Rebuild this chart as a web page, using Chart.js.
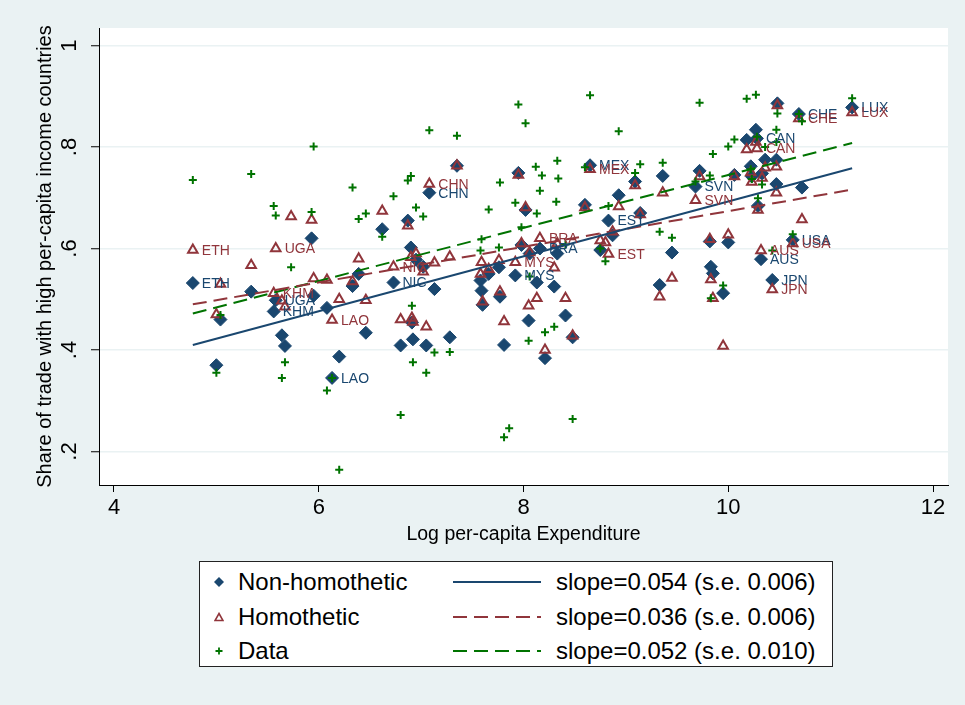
<!DOCTYPE html>
<html>
<head>
<meta charset="utf-8">
<script src="https://cdn.jsdelivr.net/npm/chart.js@4.4.0/dist/chart.umd.min.js"></script>
<style>
  body { margin: 0; background: #eaf2f3; }
  #wrap { position: relative; width: 965px; height: 705px; background: #eaf2f3; font-family: "Liberation Sans", Arial, sans-serif; }
  #grafico { position: absolute; left: 0; top: 0; }
  #legenda { position: absolute; left: 199px; top: 561px; width: 632px; height: 104px; background: #fff; border: 1px solid #222; }
  #legenda .item { position: absolute; font-size: 24px; line-height: 24px; color: #000; white-space: nowrap; }
  #legenda svg { position: absolute; }
</style>
</head>
<body>
<div id="wrap">
  <canvas id="grafico" width="965" height="705"></canvas>
  <div id="legenda"></div>
</div>
<script>
// log per-capita expenditure, one entry per country
const logExp = [4.77, 5.00, 5.04, 5.34, 5.56, 5.58, 5.64, 5.67, 5.73, 5.93,
  5.95, 6.08, 6.13, 6.20, 6.33, 6.39, 6.46, 6.62, 6.73, 6.80,
  6.87, 6.90, 6.91, 6.92, 6.95, 7.02, 7.05, 7.08, 7.13, 7.28,
  7.35, 7.58, 7.59, 7.60, 7.66, 7.76, 7.77, 7.81, 7.86, 7.92,
  7.95, 7.98, 8.02, 8.05, 8.06, 8.13, 8.16, 8.21, 8.30, 8.33,
  8.41, 8.48, 8.60, 8.65, 8.75, 8.80, 8.83, 8.87, 8.93, 9.09,
  9.14, 9.33, 9.36, 9.45, 9.68, 9.72, 9.82, 9.83, 9.85, 9.95,
  10.00, 10.06, 10.18, 10.22, 10.23, 10.27, 10.28, 10.29, 10.32, 10.33,
  10.36, 10.43, 10.47, 10.47, 10.48, 10.63, 10.69, 10.72, 11.21,
  8.12, 8.18, 8.34, 8.32];

const countryCodes = ["ETH", "", "", "", "KHM", "UGA", "", "", "", "",
  "", "", "LAO", "", "", "", "", "", "NIC", "",
  "", "", "", "", "", "", "", "CHN", "", "",
  "", "", "", "", "", "", "", "", "", "MYS",
  "", "", "", "", "", "", "BRA", "", "", "",
  "", "", "", "MEX", "", "", "EST", "", "", "",
  "", "", "", "", "SVN", "", "", "", "", "",
  "", "", "", "", "", "", "CAN", "", "AUS", "",
  "", "JPN", "", "", "", "USA", "CHE", "", "LUX",
  "", "", "", ""];

const nonHomothetic = [0.532, 0.370, 0.460, 0.515, 0.476, 0.498, 0.429, 0.408, null, 0.620,
  0.507, 0.483, 0.345, 0.387, 0.526, 0.550, 0.434, 0.638, 0.533, 0.409,
  0.655, 0.602, 0.454, 0.421, 0.578, 0.564, 0.409, 0.710, 0.520, 0.425,
  0.763, 0.537, 0.517, 0.489, 0.550, 0.563, 0.505, 0.410, null, 0.547,
  0.749, 0.607, 0.676, 0.458, 0.590, 0.533, 0.600, 0.384, 0.525, 0.590,
  0.468, 0.425, 0.686, 0.764, 0.597, null, 0.655, 0.626, 0.705, 0.732,
  0.670, 0.528, 0.743, 0.592, 0.722, 0.753, 0.614, 0.564, 0.551, 0.512,
  0.612, 0.745, 0.814, 0.762, 0.742, 0.834, 0.817, 0.684, 0.579, 0.748,
  0.775, 0.538, 0.775, 0.727, 0.886, 0.617, 0.865, 0.720, 0.878,
  null, null, null, null];

const homothetic = [0.597, 0.470, 0.530, 0.567, 0.512, 0.600, 0.497, 0.485, 0.663, 0.656,
  0.541, 0.538, 0.459, 0.500, 0.535, 0.580, 0.498, 0.674, 0.564, 0.460,
  0.645, 0.583, 0.463, 0.455, 0.590, 0.554, 0.446, 0.727, 0.572, 0.584,
  0.763, 0.550, 0.573, 0.495, 0.559, 0.577, 0.515, 0.456, null, 0.573,
  0.745, 0.610, 0.681, 0.487, 0.592, 0.502, 0.620, 0.400, 0.562, 0.610,
  0.502, 0.428, 0.681, 0.756, 0.616, 0.612, 0.589, 0.633, 0.683, 0.724,
  0.667, 0.505, 0.710, 0.542, 0.695, 0.742, 0.618, 0.539, 0.502, 0.408,
  0.627, 0.742, 0.795, 0.750, 0.731, 0.810, 0.797, 0.676, 0.596, 0.739,
  0.759, 0.519, 0.761, 0.710, 0.882, 0.610, 0.856, 0.657, 0.868,
  null, null, null, null];

const dataShare = [0.735, 0.355, 0.469, 0.747, 0.684, 0.665, 0.345, 0.376, 0.563, 0.672,
  0.801, 0.320, 0.345, 0.164, 0.720, 0.658, 0.669, 0.623, 0.703, 0.272,
  0.734, 0.743, 0.487, 0.376, 0.681, 0.663, 0.355, 0.833, 0.395, 0.396,
  0.822, 0.596, 0.618, null, 0.677, 0.602, 0.730, 0.228, 0.246, 0.690,
  0.884, 0.642, 0.847, 0.418, 0.545, 0.669, 0.714, 0.435, 0.446, 0.773,
  0.608, 0.264, 0.760, 0.902, 0.600, 0.575, 0.684, null, 0.831, 0.749,
  0.766, 0.633, 0.769, 0.621, 0.732, 0.887, 0.744, 0.502, 0.786, 0.527,
  0.801, 0.815, 0.895, 0.756, 0.737, 0.903, 0.820, 0.699, null, 0.726,
  0.800, 0.596, 0.834, 0.810, 0.866, 0.628, 0.865, 0.851, 0.896,
  0.761, 0.744, 0.738, 0.692];

// fitted lines, read at both ends
const fitX = [4.77, 11.21];
const fitNonHom = [0.410, 0.758];
const fitHom = [0.490, 0.716];
const fitData = [0.472, 0.808];

const xTicks = [4, 6, 8, 10, 12];
const yTicks = [0.2, 0.4, 0.6, 0.8, 1];

const legendLabels = ["Non-homothetic", "Homothetic", "Data"];
const slopeLabels = ["slope=0.054 (s.e. 0.006)", "slope=0.036 (s.e. 0.006)", "slope=0.052 (s.e. 0.010)"];

const azul = "#1a476f";
const vermelho = "#90353b";
const verde = "#007300";
const fonte = '"Liberation Sans", Arial, sans-serif';

function pontos(vals) {
  return logExp.map((x, i) => ({ x: x, y: vals[i] })).filter(p => p.y !== null);
}
function reta(vals) {
  return fitX.map((x, i) => ({ x: x, y: vals[i] }));
}

const fundoBranco = {
  id: "fundoBranco",
  beforeDraw(chart) {
    const a = chart.chartArea;
    chart.ctx.save();
    chart.ctx.fillStyle = "#fff";
    chart.ctx.fillRect(a.left, a.top, a.right - a.left, a.bottom - a.top);
    chart.ctx.restore();
  }
};

const rotulos = {
  id: "rotulos",
  afterDatasetsDraw(chart) {
    const ctx = chart.ctx;
    const xs = chart.scales.x, ys = chart.scales.y;
    ctx.save();
    ctx.font = "14px " + fonte;
    ctx.textAlign = "left";
    ctx.textBaseline = "middle";
    [[nonHomothetic, azul], [homothetic, vermelho]].forEach(([vals, cor]) => {
      ctx.fillStyle = cor;
      countryCodes.forEach((c, i) => {
        if (!c || vals[i] === null) return;
        ctx.fillText(c, xs.getPixelForValue(logExp[i]) + 9, ys.getPixelForValue(vals[i]) + 1);
      });
    });
    ctx.restore();
  }
};

Chart.defaults.font.family = fonte;
Chart.defaults.color = "#000";

new Chart(document.getElementById("grafico"), {
  type: "scatter",
  data: {
    datasets: [
      { label: "fitNonHom", type: "line", data: reta(fitNonHom), borderColor: azul, borderWidth: 2, pointRadius: 0, order: 0 },
      { label: "fitHom", type: "line", data: reta(fitHom), borderColor: vermelho, borderWidth: 2, borderDash: [14, 7], pointRadius: 0, order: 0 },
      { label: "fitData", type: "line", data: reta(fitData), borderColor: verde, borderWidth: 2, borderDash: [14, 7], pointRadius: 0, order: 0 },
      { label: "Data", data: pontos(dataShare), pointStyle: "cross", pointRadius: 4, borderColor: verde, borderWidth: 2, order: 1 },
      { label: "Homothetic", data: pontos(homothetic), pointStyle: "triangle", pointRadius: 5.5, borderColor: vermelho, backgroundColor: "rgba(0,0,0,0)", borderWidth: 2, order: 2 },
      { label: "Non-homothetic", data: pontos(nonHomothetic), pointStyle: "rectRot", pointRadius: 6.5, borderColor: azul, backgroundColor: azul, borderWidth: 1, order: 3 }
    ]
  },
  options: {
    responsive: false,
    animation: false,
    devicePixelRatio: 1,
    layout: { padding: { left: 0, right: 17, top: 28, bottom: 156 } },
    plugins: { legend: { display: false }, tooltip: { enabled: false } },
    scales: {
      x: {
        type: "linear",
        min: 3.8535,
        max: 12.1465,
        afterBuildTicks: s => { s.ticks = xTicks.map(v => ({ value: v })); },
        afterFit: s => { s.height = 64; },
        grid: { drawOnChartArea: false, drawTicks: true, tickLength: 7, tickColor: "#000" },
        border: { color: "#000", width: 1 },
        ticks: { font: { size: 22 }, color: "#000", padding: 3, maxRotation: 0 },
        title: { display: true, text: "Log per-capita Expenditure", font: { size: 19.5 }, color: "#000", padding: { top: 0, bottom: 2.3 } }
      },
      y: {
        min: 0.134,
        max: 1.0345,
        afterBuildTicks: s => { s.ticks = yTicks.map(v => ({ value: v })); },
        afterFit: s => { s.width = 99; },
        grid: { color: "#eaf2f3", lineWidth: 1.5, drawTicks: true, tickLength: 8, tickColor: "#000", tickWidth: 1 },
        border: { color: "#000", width: 1 },
        ticks: {
          font: { size: 22 }, color: "#000", minRotation: 90, maxRotation: 90, crossAlign: "center", padding: 12,
          callback: v => v === 1 ? "1" : v.toFixed(1).replace(/^0/, "")
        },
        title: { display: true, text: "Share of trade with high per-capita income countries", font: { size: 20 }, color: "#000", padding: { top: 33, bottom: 0 } }
      }
    }
  },
  plugins: [fundoBranco, rotulos]
});

// legenda em html
const legenda = document.getElementById("legenda");
const linhasY = [20, 55, 89];
const simbolos = [
  '<polygon points="5,0 10,5 5,10 0,5" fill="' + azul + '"/>',
  '<polygon points="5,1.5 9,8.5 1,8.5" fill="none" stroke="' + vermelho + '" stroke-width="1.6"/>',
  '<path d="M5 1.5 V8.5 M1.5 5 H8.5" stroke="' + verde + '" stroke-width="1.8"/>'
];
const estilosLinha = [
  { cor: azul, dash: "" },
  { cor: vermelho, dash: "14 7" },
  { cor: verde, dash: "14 7" }
];
legendLabels.forEach((txt, i) => {
  const cy = linhasY[i];
  legenda.insertAdjacentHTML("beforeend",
    '<svg width="10" height="10" style="left:14px;top:' + (cy - 5) + 'px">' + simbolos[i] + '</svg>' +
    '<div class="item" style="left:38px;top:' + (cy - 12) + 'px">' + txt + '</div>' +
    '<svg width="90" height="4" style="left:253px;top:' + (cy - 2) + 'px"><line x1="0" y1="2" x2="88" y2="2" stroke="' + estilosLinha[i].cor + '" stroke-width="2" stroke-dasharray="' + estilosLinha[i].dash + '"/></svg>' +
    '<div class="item" style="left:356px;top:' + (cy - 12) + 'px">' + slopeLabels[i] + '</div>');
});
</script>
</body>
</html>
